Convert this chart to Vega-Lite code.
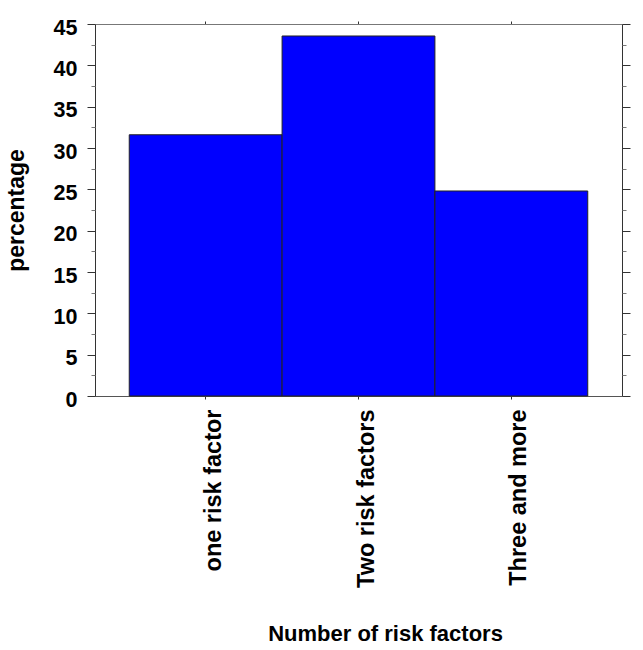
{
  "$schema": "https://vega.github.io/schema/vega-lite/v6.json",
  "width": 527,
  "height": 372,
  "autosize": "none",
  "padding": {"left": 95, "top": 24, "right": 21, "bottom": 254},
  "background": "white",
  "config": {"view": {"stroke": null}},
  "data": {"values": [
    {"group": "one risk factor", "percentage": 31.6},
    {"group": "Two risk factors", "percentage": 43.55},
    {"group": "Three and more", "percentage": 24.8}
  ]},
  "resolve": {"axis": {"x": "independent", "y": "independent"}},
  "layer": [
    {
      "mark": {"type": "bar", "color": "#0000FF", "stroke": "#222222", "strokeWidth": 1},
      "encoding": {
        "x": {"field": "group", "type": "nominal", "sort": null,
          "scale": {"paddingInner": 0, "paddingOuter": 0.224},
          "axis": {"orient": "bottom", "labelAngle": -90, "tickSize": 3, "tickColor": "#333333",
            "domainColor": "#555555", "labelFont": "Liberation Sans", "labelFontWeight": "bold",
            "labelFontSize": 23.5, "labelColor": "black", "labelPadding": 10, "labelOffset": 8,
            "labelLimit": 400, "title": "Number of risk factors", "titleFont": "Liberation Sans",
            "titleFontWeight": "bold", "titleFontSize": 22, "titleColor": "black",
            "titleX": 290, "titleY": 244, "titleAlign": "center", "titleBaseline": "alphabetic"}},
        "y": {"field": "percentage", "type": "quantitative",
          "scale": {"domain": [0, 45], "nice": false},
          "axis": {"orient": "left", "values": [0, 5, 10, 15, 20, 25, 30, 35, 40, 45], "grid": false,
            "tickSize": 8, "tickColor": "#333333", "domainColor": "#333333",
            "labelFont": "Liberation Sans", "labelFontWeight": "bold", "labelFontSize": 21.5,
            "labelColor": "black", "labelPadding": 10, "labelOffset": 4,
            "title": "percentage", "titleFont": "Liberation Sans", "titleFontWeight": "bold",
            "titleFontSize": 23, "titleColor": "black", "titleAngle": 270,
            "titleX": -72, "titleY": 186, "titleAlign": "center", "titleBaseline": "alphabetic"}}
      }
    },
    {
      "mark": {"type": "bar", "opacity": 0},
      "encoding": {
        "x": {"field": "group", "type": "nominal", "sort": null,
          "axis": {"orient": "top", "labels": false, "tickSize": 3, "tickColor": "#333333",
            "domainColor": "#777777", "title": null}},
        "y": {"field": "percentage", "type": "quantitative",
          "axis": {"orient": "left", "values": [2.5, 7.5, 12.5, 17.5, 22.5, 27.5, 32.5, 37.5, 42.5],
            "labels": false, "domain": false, "grid": false, "tickSize": 4, "tickColor": "#777777", "title": null}}
      }
    },
    {
      "mark": {"type": "bar", "opacity": 0},
      "encoding": {
        "x": {"field": "group", "type": "nominal", "sort": null, "axis": null},
        "y": {"field": "percentage", "type": "quantitative",
          "axis": {"orient": "right", "values": [0, 5, 10, 15, 20, 25, 30, 35, 40, 45],
            "labels": false, "grid": false, "tickSize": 8, "tickColor": "#333333",
            "domainColor": "#333333", "title": null}}
      }
    },
    {
      "mark": {"type": "bar", "opacity": 0},
      "encoding": {
        "x": {"field": "group", "type": "nominal", "sort": null, "axis": null},
        "y": {"field": "percentage", "type": "quantitative",
          "axis": {"orient": "right", "values": [2.5, 7.5, 12.5, 17.5, 22.5, 27.5, 32.5, 37.5, 42.5],
            "labels": false, "domain": false, "grid": false, "tickSize": 4, "tickColor": "#777777", "title": null}}
      }
    }
  ]
}
